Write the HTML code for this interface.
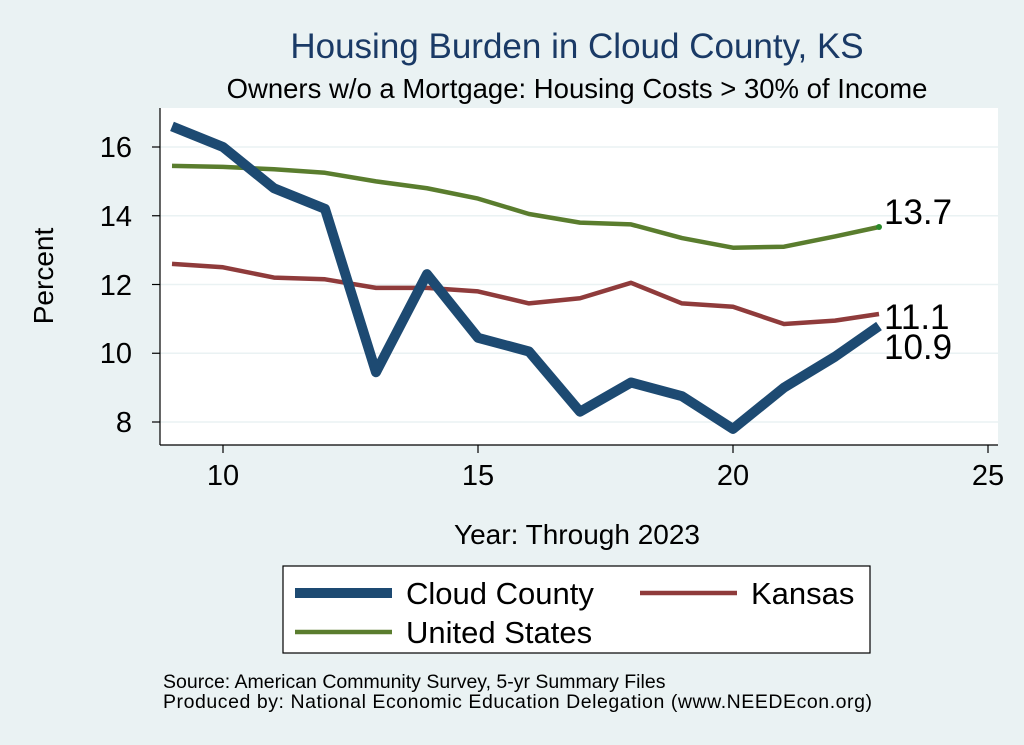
<!DOCTYPE html>
<html><head><style>body{margin:0;background:#eaf2f3;}svg{display:block;font-family:"Liberation Sans",Arial,sans-serif;}</style></head>
<body>
<svg width="1024" height="745" viewBox="0 0 1024 745">
<rect width="1024" height="745" fill="#eaf2f3"/>
<text x="577" y="58" font-size="35" text-anchor="middle" fill="#1a3a66">Housing Burden in Cloud County, KS</text>
<text x="577" y="98" font-size="27.5" text-anchor="middle" fill="#000">Owners w/o a Mortgage: Housing Costs &gt; 30% of Income</text>
<rect x="160" y="108" width="838" height="337" fill="#fff"/>
<g stroke="#eaf2f3" stroke-width="1.5">
<line x1="160" x2="998" y1="422" y2="422"/><line x1="160" x2="998" y1="353.25" y2="353.25"/><line x1="160" x2="998" y1="284.5" y2="284.5"/><line x1="160" x2="998" y1="215.75" y2="215.75"/><line x1="160" x2="998" y1="147" y2="147"/>
</g>
<g stroke="#000" stroke-width="1.2">
<line x1="160" y1="108" x2="160" y2="445"/><line x1="160" y1="445" x2="998" y2="445"/>
<line x1="152" x2="160" y1="422" y2="422"/><line x1="152" x2="160" y1="353.25" y2="353.25"/><line x1="152" x2="160" y1="284.5" y2="284.5"/><line x1="152" x2="160" y1="215.75" y2="215.75"/><line x1="152" x2="160" y1="147" y2="147"/>
<line x1="223" x2="223" y1="445" y2="453"/><line x1="478" x2="478" y1="445" y2="453"/><line x1="733" x2="733" y1="445" y2="453"/><line x1="988" x2="988" y1="445" y2="453"/>
</g>
<g font-size="29" text-anchor="end"><text x="132" y="432">8</text><text x="132" y="363">10</text><text x="132" y="295">12</text><text x="132" y="226">14</text><text x="132" y="157">16</text></g>
<g font-size="29" text-anchor="middle"><text x="223" y="485">10</text><text x="478" y="485">15</text><text x="733" y="485">20</text><text x="988" y="485">25</text></g>
<text x="53" y="276" font-size="28" text-anchor="middle" transform="rotate(-90 53 276)">Percent</text>
<text x="577" y="544" font-size="28" text-anchor="middle">Year: Through 2023</text>
<polyline fill="none" stroke="#5a7d2e" stroke-width="4.5" stroke-linejoin="round" points="172,165.9 223,166.9 274,169.3 325,172.8 376,181.4 427,188.25 478,198.6 529,214 580,222.6 631,224.4 682,238.1 733,247.7 784,246.7 835,236.4 879,227"/>
<polyline fill="none" stroke="#8f3b3b" stroke-width="4.5" stroke-linejoin="round" points="172,263.9 223,267.3 274,277.6 325,279.3 376,287.9 427,287.9 478,291.4 529,303.4 580,298.25 631,282.8 682,303.4 733,306.8 784,324 835,320.6 879,314"/>
<polyline fill="none" stroke="#1d4a72" stroke-width="10" stroke-linejoin="round" points="172,126.4 223,147 274,188.25 325,208.9 376,372.2 427,274.2 478,337.8 529,351.5 580,411.7 631,382.5 682,396.2 733,428.9 784,387.6 835,356.7 879,326"/>
<circle cx="879" cy="227" r="3" fill="#2a8a2a"/>
<g font-size="35"><text x="884" y="224">13.7</text><text x="884" y="329">11.1</text><text x="884" y="359">10.9</text></g>
<rect x="283" y="566" width="587" height="87" fill="#fff" stroke="#000" stroke-width="1.2"/>
<line x1="295" x2="392" y1="593" y2="593" stroke="#1d4a72" stroke-width="10"/>
<text x="406" y="604" font-size="31">Cloud County</text>
<line x1="640" x2="737" y1="593" y2="593" stroke="#8f3b3b" stroke-width="4.5"/>
<text x="751" y="604" font-size="31">Kansas</text>
<line x1="295" x2="392" y1="632" y2="632" stroke="#5a7d2e" stroke-width="4.5"/>
<text x="406" y="643" font-size="31">United States</text>
<text x="163" y="688" font-size="19.5">Source: American Community Survey, 5-yr Summary Files</text>
<text x="163" y="708" font-size="19.5" textLength="709" lengthAdjust="spacing">Produced by: National Economic Education Delegation (www.NEEDEcon.org)</text>
</svg>
</body></html>
